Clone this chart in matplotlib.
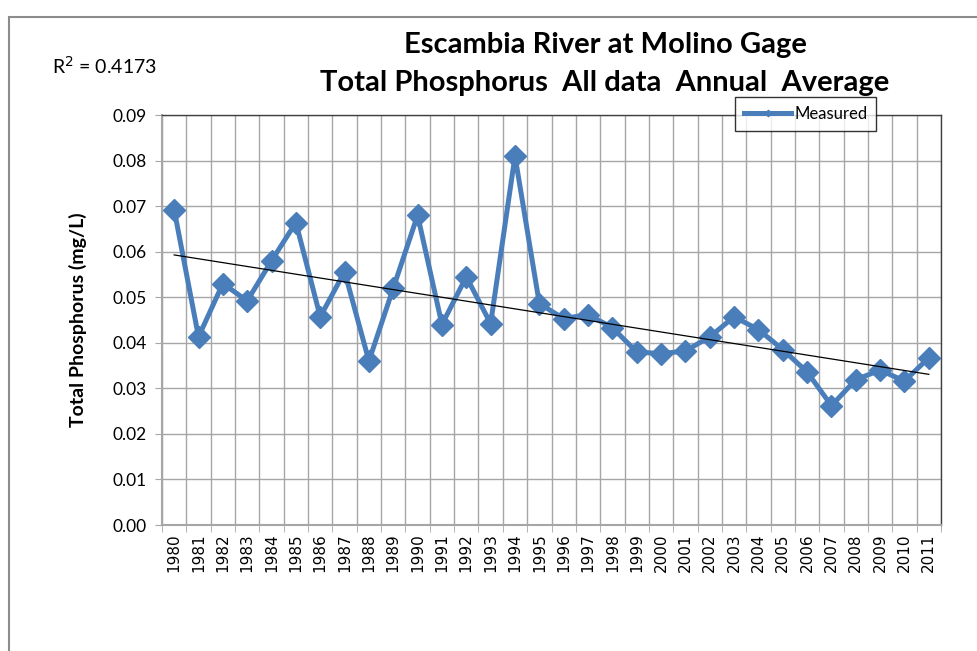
import matplotlib
matplotlib.use("Agg")
import matplotlib.pyplot as plt
import numpy as np
from matplotlib.patches import Rectangle

years = [str(y) for y in range(1980, 2012)]
measured = [0.0692, 0.0413, 0.0530, 0.0492, 0.0580, 0.0664, 0.0457, 0.0556,
            0.0360, 0.0520, 0.0680, 0.0440, 0.0545, 0.0442, 0.0810, 0.0486,
            0.0453, 0.0462, 0.0433, 0.0380, 0.0376, 0.0382, 0.0413, 0.0457,
            0.0429, 0.0385, 0.0336, 0.0262, 0.0319, 0.0340, 0.0316, 0.0367]
y_ticks = [0.00, 0.01, 0.02, 0.03, 0.04, 0.05, 0.06, 0.07, 0.08, 0.09]
r2_text = "R$^2$ = 0.4173"
title = "Escambia River at Molino Gage\nTotal Phosphorus  All data  Annual  Average"

blue = "#4A7EBB"
grid = "#A6A6A6"

fig = plt.figure(figsize=(9.78, 6.51), dpi=100)
fig.patches.append(Rectangle((9 / 978, -0.1), 1.2, (651 - 17) / 651 + 0.1,
                             transform=fig.transFigure, fill=False,
                             edgecolor="#8C8C8C", linewidth=1.5))

ax = fig.add_axes([162 / 978, 126 / 651, 779 / 978, 410 / 651])
x = np.arange(len(years))

# linear trendline like Excel's
coef = np.polyfit(x, measured, 1)
ax.plot(x, np.polyval(coef, x), color="black", linewidth=0.9, zorder=4)
ax.plot(x, measured, color=blue, linewidth=3.6, marker="D", markersize=11,
        label="Measured", zorder=3)

ax.set_xlim(-0.5, len(years) - 0.5)
ax.set_ylim(0, 0.09)
ax.set_yticks(y_ticks)
ax.set_yticklabels([f"{v:.2f}" for v in y_ticks], fontsize=12.5, family="Lato")
ax.set_xticks(x)
ax.set_xticklabels(years, rotation=90, fontsize=11, family="DejaVu Sans")
ax.set_xticks(np.arange(-0.5, len(years)), minor=True)
ax.tick_params(axis="x", which="major", length=0, pad=6)
ax.tick_params(axis="x", which="minor", length=5, color=grid)
ax.tick_params(axis="y", length=5, color=grid, pad=6)
ax.grid(True, axis="x", which="minor", color=grid, linewidth=1)
ax.grid(True, axis="y", which="major", color=grid, linewidth=1)
ax.set_axisbelow(True)
for side in ["top", "right"]:
    ax.spines[side].set_color("#404040")
    ax.spines[side].set_linewidth(1)
for side in ["left", "bottom"]:
    ax.spines[side].set_color(grid)
    ax.spines[side].set_linewidth(1.5)

ax.set_ylabel("Total Phosphorus (mg/L)", fontsize=14, fontweight="bold",
              family="Lato", labelpad=18)

leg = ax.legend(loc="upper left", bbox_to_anchor=((735 - 162) / 779, (525 - 97) / 410),
                bbox_transform=ax.transAxes, frameon=True, fancybox=False,
                borderaxespad=0, borderpad=0.55, handlelength=2.8, handletextpad=0.2,
                markerscale=0.3, prop={"family": "Lato", "size": 12})
leg.get_frame().set_edgecolor("black")
leg.get_frame().set_linewidth(1)
leg.set_zorder(5)

fig.text(605 / 978, 1 - 64 / 651, title, ha="center", va="center", fontsize=21,
         fontweight="bold", family="Lato", linespacing=1.6)
fig.text(52 / 978, 1 - 66 / 651, r2_text, ha="left", va="center", fontsize=14,
         family="Lato")

fig.savefig("out.png", dpi=100)
